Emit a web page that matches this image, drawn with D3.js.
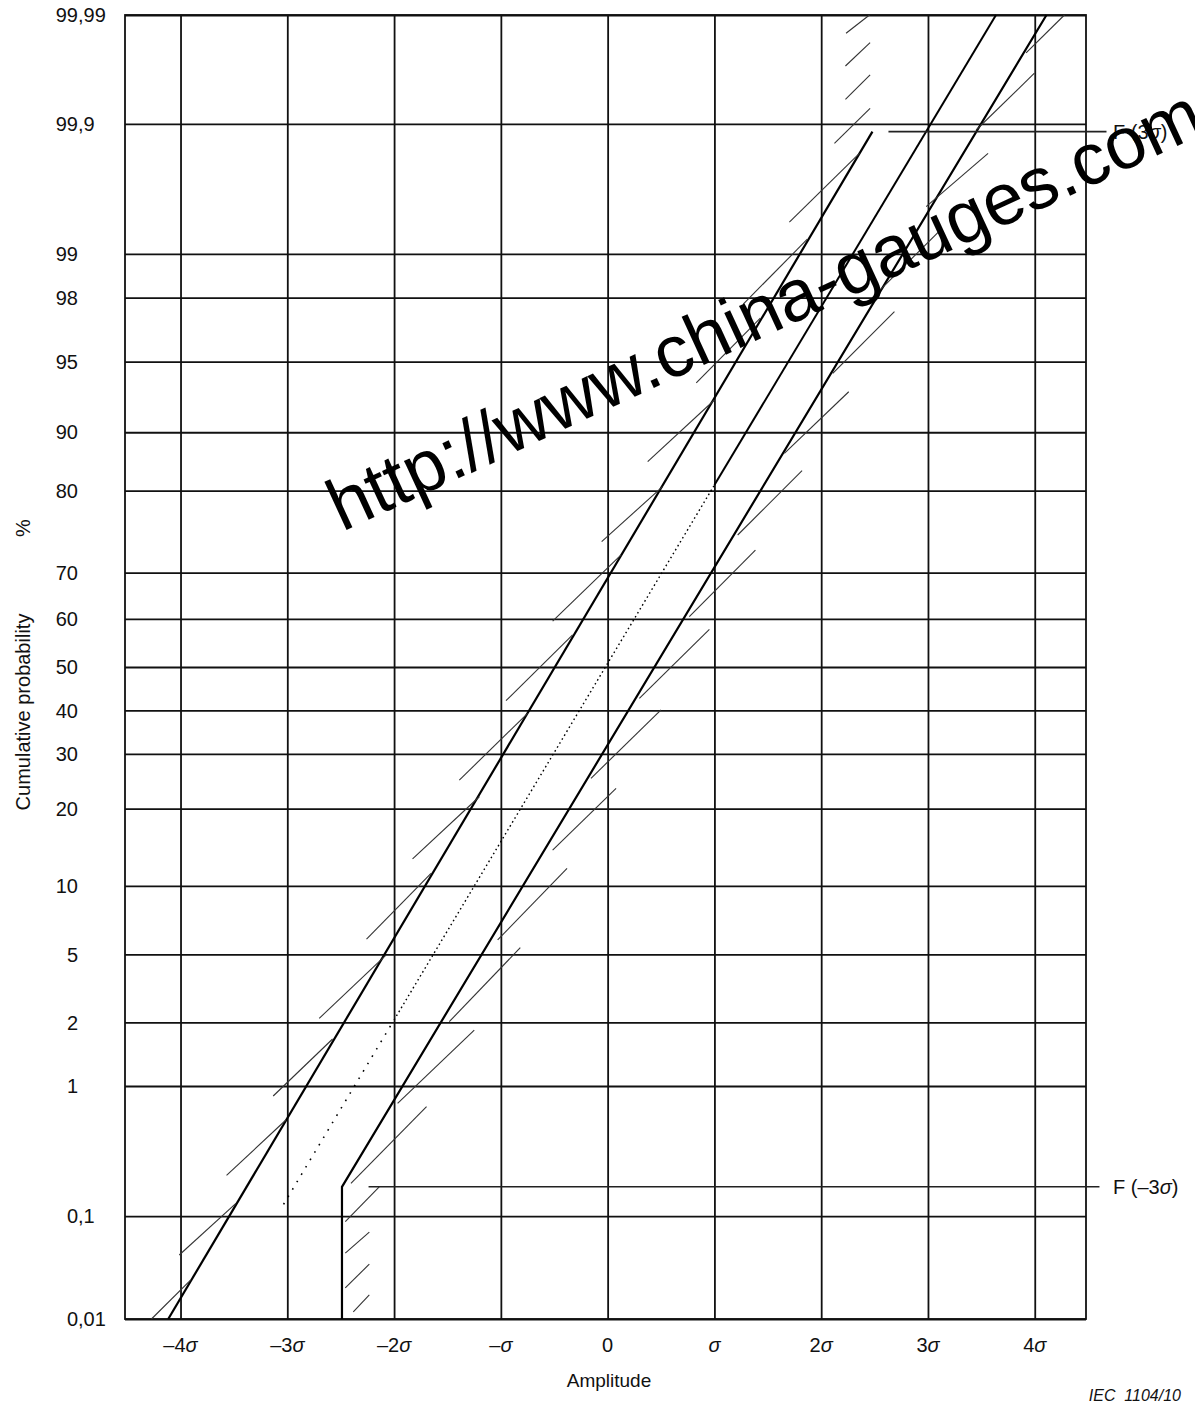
<!DOCTYPE html>
<html><head><meta charset="utf-8">
<script src="https://cdn.jsdelivr.net/npm/d3@7"></script>
<style>body{margin:0;background:#fff} svg{display:block} text{font-family:"Liberation Sans",Arial,sans-serif;fill:#111}</style>
</head><body><svg id="c" width="1195" height="1405"></svg>
<script>
// ---- data (amplitude in sigma units, probability as standard-normal quantile z) ----
const xTickValues = [-4,-3,-2,-1,0,1,2,3,4];
const xTickNums   = ["–4","–3","–2","–","0","","2","3","4"];
const xTickSigma  = [true,true,true,true,false,true,true,true,true];
const yTickLabels = ["0,01","0,1","1","2","5","10","20","30","40","50","60","70","80","90","95","98","99","99,9","99,99"];
const yTickZ      = [-3.719,-3.132,-2.390,-2.027,-1.639,-1.249,-0.808,-0.496,-0.247,0,0.274,0.538,1.006,1.339,1.742,2.107,2.356,3.098,3.719];

// main distribution lines
const lineA = [[-4.115,-3.719],[2.480,3.054]];
const lineB = [[-2.488,-3.719],[-2.488,-2.965],[4.110,3.719]];
const midSparse = [[-3.035,-3.065],[-2.0,-2.013]];
const midDense  = [[-2.0,-2.013],[1.0,1.038]];
const midSolid  = [[1.0,1.038],[3.637,3.719]];

// F(3σ) / F(–3σ) marker lines
const fUpper = {z:3.054, s1:2.630, s2:4.672, label:"3"};
const fLower = {z:-2.965, s1:-2.239, s2:4.606, label:"–3"};

// tolerance strokes [s1,z1,s2,z2]
const tolLeft = [
 [-4.272,-3.719,-3.906,-3.497],[-4.012,-3.354,-3.481,-3.059],[-3.569,-2.900,-3.013,-2.584],
 [-3.132,-2.447,-2.576,-2.122],[-2.701,-2.004,-2.076,-1.643],[-2.258,-1.552,-1.654,-1.177],
 [-1.827,-1.095,-1.202,-0.740],[-1.389,-0.645,-0.749,-0.264],[-0.952,-0.192,-0.328,0.183],
 [-0.515,0.262,0.126,0.639],[-0.056,0.715,0.515,1.029],[0.375,1.171,1.0,1.523],
 [0.83,1.62,1.43,1.99],[1.27,2.07,1.87,2.44],
 [1.702,2.538,2.358,2.930]
];
const tolRight = [
 [-2.457,-3.164,-2.139,-2.965],[-2.404,-2.945,-1.696,-2.508],[-1.967,-2.489,-1.249,-2.071],
 [-1.483,-2.023,-0.818,-1.601],[-1.030,-1.557,-0.380,-1.148],[-0.515,-1.044,0.079,-0.692],
 [-0.156,-0.635,0.500,-0.245],[0.297,-0.179,0.953,0.215],[0.765,0.287,1.384,0.667],
 [1.218,0.753,1.821,1.120],[1.655,1.219,2.258,1.570],[2.108,1.675,2.686,2.027],
 [2.55,2.15,3.13,2.50],
 [2.983,2.626,3.563,2.930],[3.451,3.063,3.997,3.387],[3.919,3.503,4.278,3.719]
];
const hatchTop = [[2.124,2.987,2.458,3.187],[2.227,3.238,2.458,3.377],[2.227,3.428,2.458,3.561],[2.233,3.615,2.452,3.719]];
const hatchBottom = [[-2.457,-3.343,-2.232,-3.223],[-2.457,-3.542,-2.232,-3.406],[-2.382,-3.679,-2.232,-3.582]];

// ---- drawing ----
const svg = d3.select("#c");
const x = d3.scaleLinear().domain([-4.52,4.48]).range([125,1086]);
const y = d3.scaleLinear().domain([-3.719,3.719]).range([1319,15]);
const L = x.range()[0], R = x.range()[1], T = y.range()[1], B = y.range()[0];

// grid via axes
const gx = svg.append("g").attr("transform",`translate(0,${B})`)
  .call(d3.axisBottom(x).tickValues(xTickValues).tickSize(-(B-T)).tickFormat(""));
const gy = svg.append("g").attr("transform",`translate(${L},0)`)
  .call(d3.axisLeft(y).tickValues(yTickZ).tickSize(-(R-L)).tickFormat(""));
[gx,gy].forEach(g=>{g.select(".domain").remove(); g.selectAll("line").attr("stroke","#111").attr("stroke-width",1.8);});

// frame
svg.append("rect").attr("x",L).attr("y",T).attr("width",R-L).attr("height",B-T)
  .attr("fill","none").attr("stroke","#111").attr("stroke-width",1.8);

const line = d3.line().x(d=>x(d[0])).y(d=>y(d[1]));
const drawPath = (pts,w,dash,col)=>svg.append("path").attr("d",line(pts)).attr("fill","none")
  .attr("stroke",col||"#000").attr("stroke-width",w).attr("stroke-dasharray",dash||null);

drawPath(lineA,2.2);
drawPath(lineB,2.2);
drawPath(midSparse,1.6,"1.6 7");
drawPath(midDense,1.4,"1.6 3");
drawPath(midSolid,2.0);

const segs = (data,w,col)=>svg.append("g").selectAll("line").data(data).join("line")
  .attr("x1",d=>x(d[0])).attr("y1",d=>y(d[1])).attr("x2",d=>x(d[2])).attr("y2",d=>y(d[3]))
  .attr("stroke",col).attr("stroke-width",w);
segs(tolLeft,1.1,"#333");
segs(tolRight,1.1,"#333");
segs(hatchTop,1.1,"#333");
segs(hatchBottom,1.1,"#333");

// F lines (extend beyond frame)
[fUpper,fLower].forEach(f=>{
  svg.append("line").attr("x1",x(f.s1)).attr("x2",x(f.s2)).attr("y1",y(f.z)).attr("y2",y(f.z))
    .attr("stroke","#222").attr("stroke-width",1.6);
  const t = svg.append("text").attr("x",1113).attr("y",y(f.z)).attr("dy","0.36em").attr("font-size",20);
  t.append("tspan").text("F ("+f.label);
  t.append("tspan").attr("font-style","italic").text("σ");
  t.append("tspan").text(")");
});

// x tick labels
xTickValues.forEach((v,i)=>{
  const t = svg.append("text").attr("x",x(v)).attr("y",1345).attr("dy","0.36em")
    .attr("text-anchor","middle").attr("font-size",20);
  if (xTickNums[i]) t.append("tspan").text(xTickNums[i]);
  if (xTickSigma[i]) t.append("tspan").attr("font-style","italic").text("σ");
});

// y tick labels, aligned on the decimal comma
yTickLabels.forEach((lab,i)=>{
  const parts = lab.split(",");
  svg.append("text").attr("x",78).attr("y",y(yTickZ[i])).attr("dy","0.36em")
    .attr("text-anchor","end").attr("font-size",20).text(parts[0]);
  if (parts.length>1) svg.append("text").attr("x",78).attr("y",y(yTickZ[i])).attr("dy","0.36em")
    .attr("text-anchor","start").attr("font-size",20).text(","+parts[1]);
});

// axis titles
svg.append("text").attr("transform","translate(30,712) rotate(-90)").attr("text-anchor","middle")
  .attr("font-size",20).text("Cumulative probability");
svg.append("text").attr("transform","translate(30,528) rotate(-90)").attr("text-anchor","middle")
  .attr("font-size",20).text("%");
svg.append("text").attr("x",609).attr("y",1380).attr("dy","0.36em").attr("text-anchor","middle")
  .attr("font-size",19).text("Amplitude");
svg.append("text").attr("x",1181).attr("y",1395).attr("dy","0.36em").attr("text-anchor","end")
  .attr("font-size",16).attr("font-style","italic").style("white-space","pre").text("IEC  1104/10");

// watermark
svg.append("text").attr("transform","translate(342,532) rotate(-24.8)")
  .attr("font-size",73).style("fill","#000").text("http://www.china-gauges.com");
</script></body></html>
